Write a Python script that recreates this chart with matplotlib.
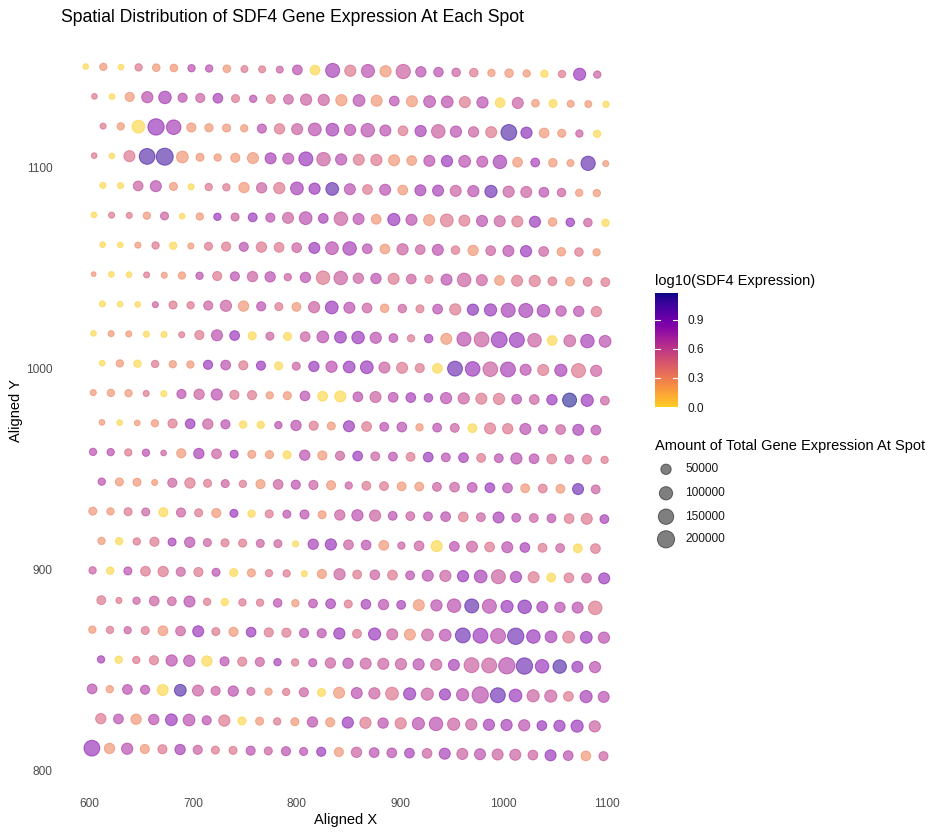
import numpy as np
import matplotlib
matplotlib.use("Agg")
import matplotlib.pyplot as plt
from matplotlib.colors import ListedColormap, Normalize

# ---------------- data ----------------
# SDF4 counts per spot, one list per grid row (top row first)
sdf4_counts = [
    [1,2,1,3,2,2,5,5,2,3,3,4,5,1,6, 3,5,2,4,5,5,4,3,2,2,2,1,3,7,4],
    [3,1,2,5,6,5,4,6,3,5,3,4,4,4,2, 5,2,5,2,5,5,3,5,1,4,2,1,2,2,1],
    [3,2,1,7,6,2,2,2,2,5,3,4,5,6, 5,5,5,3,6,4,5,4,3,12,8,2,2,4,1],
    [3,1,3,12,12,2,2,2,2,2,6,5,7,4,5, 3,3,2,2,5,7,5,5,6,2,6,2,2,11,2],
    [1,1,4,5,2,1,3,3,2,4,3,6,7,11, 5,3,5,2,6,6,4,5,10,4,4,5,4,2,2],
    [1,3,3,2,4,1,2,7,4,7,5,4,5,6,4, 5,2,7,5,2,3,3,5,4,3,7,2,7,4,1],
    [1,1,2,3,1,2,3,3,5,3,3,4,7,5, 6,5,2,4,4,5,3,2,4,5,7,4,2,3,2],
    [2,1,1,3,2,2,5,3,5,4,5,4,5,3,4, 4,5,3,4,3,5,4,4,2,3,3,3,2,3,3],
    [1,1,1,4,3,3,4,4,2,5,3,2,4,7, 5,4,2,4,3,5,3,8,7,6,6,6,5,5,3],
    [1,2,2,1,1,3,3,5,7,1,4,1,4,5,7, 7,5,5,3,6,2,5,4,7,7,4,1,4,6,5],
    [1,2,1,3,2,2,7,5,3,7,1,4,7,5, 7,7,4,3,3,1,10,7,4,6,5,3,6,3,4],
    [2,2,2,3,1,5,4,5,3,3,2,2,5,1,1, 5,4,5,6,6,5,4,3,3,5,4,7,15,7,4],
    [2,1,2,2,3,7,4,5,1,1,5,5,3,2, 7,3,5,5,2,5,4,1,3,3,5,5,4,6,5],
    [5,5,3,5,4,2,6,4,6,2,2,1,5,2,4, 7,4,5,3,7,5,6,3,5,5,5,3,4,3,3],
    [5,2,2,2,4,3,3,4,3,2,4,5,4,2, 4,3,3,2,2,4,4,5,7,5,2,3,2,10,4],
    [2,2,3,4,1,4,3,2,7,1,3,5,5,2,4, 5,4,5,4,5,5,3,4,6,5,4,5,3,3,6],
    [2,1,3,3,6,5,4,3,3,4,4,1,6,7, 4,5,2,4,4,1,5,4,3,5,6,3,4,1,3],
    [4,1,5,3,3,4,3,5,1,2,3,3,1,2,4, 3,4,3,5,5,4,7,6,4,6,3,1,3,4,7],
    [3,3,4,4,4,5,3,1,3,3,5,2,5,6, 3,6,5,6,2,5,5,11,5,7,8,6,5,5,3],
    [2,3,4,3,2,4,7,3,2,7,3,3,5,5,7, 3,7,4,2,4,5,10,7,5,10,7,6,3,7,5],
    [6,1,3,3,5,5,1,5,3,4,6,3,5,4, 5,4,4,4,5,4,6,4,4,5,10,7,12,7,5],
    [5,2,5,5,1,12,4,4,5,4,2,3,4,1,2, 5,4,3,7,4,7,5,5,10,7,4,4,3,6,5],
    [3,5,2,5,7,5,5,3,1,2,3,2,5,2, 7,3,5,3,5,5,4,4,6,6,5,7,7,7,4],
    [7,2,5,2,3,6,4,3,3,5,4,5,5,7,2, 4,5,5,6,4,6,4,5,4,4,4,7,5,2,4],
]

# total gene expression per spot, in thousands
total_counts_k = [
    [13,20,13,20,22,22,20,20,22,18,18,18,42,42,116, 63,96,63,122,50,39,29,29,20,29,20,20,20,79,20],
    [13,13,35,63,85,35,35,42,25,20,32,42,63,63,63, 72,60,42,60,72,72,60,63,42,60,22,25,18,18,15],
    [14,20,90,175,130,35,27,25,20,35,50,60,90,90, 63,105,60,42,63,105,63,50,60,160,63,42,25,20,20],
    [13,13,60,160,195,72,25,20,35,60,60,60,116,105,63, 60,63,60,42,60,63,72,60,105,42,32,29,18,122,14],
    [14,14,42,60,25,14,20,20,50,50,63,90,63,90, 60,42,60,42,60,60,60,63,79,63,60,42,29,20,20],
    [13,14,14,20,25,13,20,20,25,32,35,60,90,42,105, 60,42,79,60,60,90,60,60,60,60,60,29,29,29,20],
    [13,13,14,20,20,14,25,35,35,50,42,42,60,90, 105,42,42,63,42,60,29,50,42,60,63,42,29,29,20],
    [12,13,13,14,14,20,20,35,35,50,50,20,50,105,105, 50,50,60,42,25,60,105,60,42,60,63,32,32,32,32],
    [14,13,13,14,25,20,35,63,50,35,25,32,63,90, 60,42,29,29,25,42,63,63,79,116,116,85,50,50,50],
    [13,14,14,14,14,14,35,60,42,25,25,25,42,72,72, 85,63,32,20,29,60,116,137,160,137,105,42,72,105,72],
    [13,20,20,20,20,20,35,42,35,35,25,25,50,63, 72,90,60,60,35,42,137,130,130,137,60,60,79,116,63],
    [14,20,20,14,14,35,50,63,35,35,20,25,42,42,60, 42,60,42,42,29,63,63,60,63,42,42,50,116,79,32],
    [13,13,13,20,35,42,50,35,20,20,20,50,35,25, 60,42,32,42,20,32,32,32,60,50,60,32,42,60,42],
    [20,20,20,20,13,35,50,42,25,25,25,25,50,35,35, 42,32,32,32,42,32,42,32,32,63,42,42,32,32,20],
    [20,25,25,14,35,50,25,25,20,35,42,35,35,35, 20,32,32,32,32,32,42,42,42,42,32,32,32,60,32],
    [25,20,25,25,35,35,25,35,25,20,25,25,35,25,50, 63,63,32,32,32,42,42,32,60,32,32,32,42,60,32],
    [20,20,20,35,25,50,25,25,25,25,25,14,50,63, 42,42,42,20,42,60,42,60,42,60,42,32,32,32,42],
    [20,20,25,42,50,35,35,25,25,25,20,20,14,35,63, 32,42,42,32,60,63,63,90,116,63,60,32,42,42,60],
    [32,14,20,42,32,60,20,20,20,20,29,20,32,42, 25,42,50,32,60,63,105,116,116,79,105,60,50,60,105],
    [20,20,20,25,42,42,60,25,35,42,35,35,35,35,63, 32,79,60,60,72,72,137,137,137,175,105,72,72,72,63],
    [20,20,20,35,63,63,50,35,35,35,20,20,25,50, 50,60,60,63,63,63,60,137,137,175,175,105,105,60,63],
    [42,20,42,35,60,72,60,35,50,25,20,20,35,25,60, 60,63,90,79,79,63,79,175,137,90,79,79,42,79,60],
    [50,42,50,50,72,72,35,63,25,25,20,25,50,35, 63,63,50,63,79,105,79,63,63,63,63,42,63,79,63],
    [160,50,63,35,35,50,35,25,25,35,25,35,25,35,35, 50,42,42,42,42,60,60,60,60,60,42,60,42,42,35],
]

# array column (hex grid) of the first spot in each row
row_first_col = [0,1,2,1,2,1,2,1,2,1,2,1,2,1,2,1,2,1,2,1,2,1,2,1]

# grid -> aligned coordinate transform
X0, Y0 = 596.3, 1150.4
COL_STEP, ROW_STEP = 8.52, 14.74
X_DRIFT_PER_ROW, Y_TILT_PER_COL = -0.11, -0.0685

legend_sizes = [50000, 100000, 150000, 200000]
cbar_ticks = [0.0, 0.3, 0.6, 0.9]

# ---------------- build spot table ----------------
xs, ys, cs, ss = [], [], [], []
for r, (cnts, tots) in enumerate(zip(sdf4_counts, total_counts_k)):
    for i, (n, t) in enumerate(zip(cnts, tots)):
        col = row_first_col[r] + 2 * i
        xs.append(X0 + COL_STEP * col + X_DRIFT_PER_ROW * r)
        ys.append(Y0 - ROW_STEP * r + Y_TILT_PER_COL * col)
        cs.append(np.log10(n))
        ss.append(t * 1000.0)
xs, ys, cs, ss = map(np.array, (xs, ys, cs, ss))

# ---------------- styles ----------------
DPI = 100
W, H = 939, 835
ALPHA = 0.55
LW = 0.7
FONT = ["Liberation Sans", "DejaVu Sans"]
plt.rcParams["font.family"] = FONT

base = plt.get_cmap("plasma")(np.linspace(0.9, 0.0, 256))
cmap = ListedColormap(base)
norm = Normalize(vmin=0.0, vmax=float(cs.max()))

S_MIN, S_MAX = 12000.0, 450000.0
def diam_px(v):
    f = np.clip((np.asarray(v, float) - S_MIN) / (S_MAX - S_MIN), 0, 1)
    return 5.05 + 18.95 * np.sqrt(f)

def marker_area(v):
    d_pt = diam_px(v) * 72.0 / DPI - 0.25 * LW
    return np.maximum(d_pt, 0.5) ** 2

fig = plt.figure(figsize=(W / DPI, H / DPI), dpi=DPI)
fig.patch.set_facecolor("white")

pl, pr, pt, pb = 59.5, 632.0, 32.0, 791.0
ax = fig.add_axes([pl / W, 1 - pb / H, (pr - pl) / W, (pb - pt) / H])
ax.scatter(xs, ys, s=marker_area(ss), c=cs, cmap=cmap, norm=norm,
           alpha=ALPHA, edgecolors="face", linewidths=LW)
ax.set_xlim(571, 1124)
ax.set_ylim(790, 1167.6)
ax.set_xticks([600, 700, 800, 900, 1000, 1100])
ax.set_yticks([800, 900, 1000, 1100])
for s in ax.spines.values():
    s.set_visible(False)
ax.tick_params(length=0, labelsize=8.6, labelcolor="#4D4D4D")
ax.tick_params(axis="x", pad=5)
ax.tick_params(axis="y", pad=5)
ax.set_facecolor("white")

fig.text(61 / W, 1 - 18 / H, "Spatial Distribution of SDF4 Gene Expression At Each Spot",
         ha="left", va="center", fontsize=12.7, color="black")
fig.text((pl + pr) / 2 / W, 1 - 820 / H, "Aligned X", ha="center", va="center",
         fontsize=10.5, color="black")
fig.text(16 / W, 1 - 411 / H, "Aligned Y", ha="center", va="center",
         rotation=90, fontsize=10.5, color="black")

# colour legend
fig.text(655 / W, 1 - 281 / H, "log10(SDF4 Expression)", ha="left", va="center",
         fontsize=10.5, color="black")
cax = fig.add_axes([655 / W, 1 - 407 / H, 23 / W, 114 / H])
grad = np.linspace(0, norm.vmax, 256).reshape(-1, 1)
cax.imshow(grad, aspect="auto", cmap=cmap, norm=norm, origin="lower",
           extent=[0, 1, 0, norm.vmax])
for v in cbar_ticks:
    cax.plot([0, 0.2], [v, v], color="white", lw=0.8)
    cax.plot([0.8, 1.0], [v, v], color="white", lw=0.8)
cax.set_xlim(0, 1)
cax.set_ylim(0, norm.vmax)
cax.set_xticks([])
cax.yaxis.tick_right()
cax.set_yticks(cbar_ticks)
cax.set_yticklabels([f"{v:.1f}" for v in cbar_ticks])
cax.tick_params(length=0, labelsize=8.6, labelcolor="#1A1A1A", pad=7)
for s in cax.spines.values():
    s.set_visible(False)

# size legend
fig.text(655 / W, 1 - 446 / H, "Amount of Total Gene Expression At Spot", ha="left",
         va="center", fontsize=10.5, color="black")
ovl = fig.add_axes([0, 0, 1, 1])
ovl.set_xlim(0, W)
ovl.set_ylim(H, 0)
ovl.axis("off")
key_y = [469.3, 493.3, 516.7, 539.3]
ovl.scatter([666] * 4, key_y, s=marker_area(legend_sizes), color="black",
            alpha=0.5, edgecolors="face", linewidths=LW)
for yk, v in zip(key_y, legend_sizes):
    ovl.text(685, yk, f"{v}", ha="left", va="center", fontsize=8.6, color="#1A1A1A")

fig.savefig("out.png", dpi=DPI, facecolor="white")
